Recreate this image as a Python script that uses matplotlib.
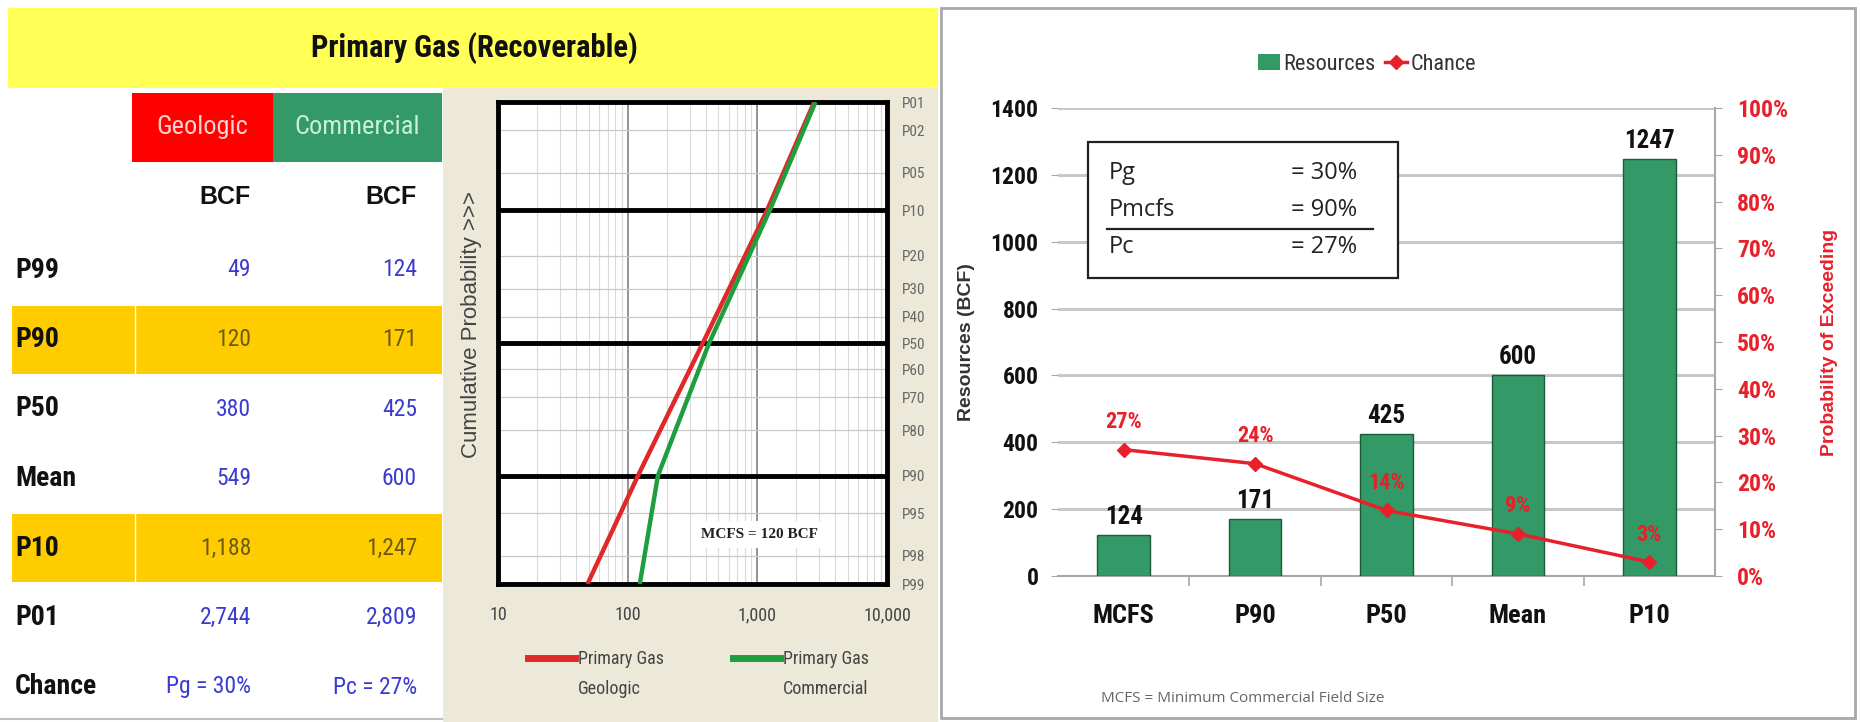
import matplotlib
matplotlib.use("Agg")
import matplotlib.pyplot as plt
from matplotlib import font_manager as fm
from matplotlib.font_manager import FontProperties
from matplotlib.patches import Rectangle, Patch
from matplotlib.lines import Line2D
import matplotlib.ticker as mticker
from statistics import NormalDist

# ---------------- data ----------------
table_rows = ["P99", "P90", "P50", "Mean", "P10", "P01"]
geologic_bcf = [49, 120, 380, 549, 1188, 2744]
commercial_bcf = [124, 171, 425, 600, 1247, 2809]
highlight_rows = ["P90", "P10"]
chance_row = ["Pg = 30%", "Pc = 27%"]

prob_labels = [1, 2, 5, 10, 20, 30, 40, 50, 60, 70, 80, 90, 95, 98, 99]
bold_probs = [10, 50, 90]
curve_p = [99, 90, 50, 10, 1]
geologic_curve = [49, 120, 380, 1188, 2744]
commercial_curve = [124, 171, 425, 1247, 2809]
x_ticks = [10, 100, 1000, 10000]
x_ticklabels = ["10", "100", "1,000", "10,000"]
mcfs_note = "MCFS = 120 BCF"

bar_categories = ["MCFS", "P90", "P50", "Mean", "P10"]
resources = [124, 171, 425, 600, 1247]
chance_pct = [27, 24, 14, 9, 3]
box_labels = ["Pg", "Pmcfs", "Pc"]
box_values = ["= 30%", "= 90%", "= 27%"]

# ---------------- fonts ----------------
def _w(f):
    w = f.weight
    if isinstance(w, str):
        w = {"bold": 700, "normal": 400, "regular": 400, "book": 400,
             "medium": 500}.get(w.lower(), 400)
    return w

prefs = ["Liberation Sans Narrow", "Arial Narrow", "Roboto Condensed",
         "Noto Sans", "Open Sans", "DejaVu Sans", "Roboto", "Lato"]
cond = {}
for f in fm.fontManager.ttflist:
    nm = f.name
    fn = f.fname.lower().split("/")[-1]
    is_c = ("Narrow" in nm or "Condensed" in nm or
            f.stretch in ("condensed", 600, 700, 750) or "condensed" in fn)
    if not is_c or f.style != "normal":
        continue
    if "extra" in fn or "ultra" in fn or "semi" in fn:
        continue
    rank = next((i for i, p in enumerate(prefs) if nm.startswith(p)), 99)
    key = "b" if _w(f) >= 650 else ("r" if 350 <= _w(f) <= 450 else None)
    if key is None:
        continue
    if key not in cond or rank < cond[key][0]:
        cond[key] = (rank, f.fname)
HAVE_COND = "r" in cond and "b" in cond


def F(size, bold=False):
    if HAVE_COND:
        return FontProperties(fname=cond["b" if bold else "r"][1], size=size)
    return FontProperties(family="Liberation Sans",
                          weight="bold" if bold else "normal", size=size * 0.84)


names = {f.name for f in fm.fontManager.ttflist}
SANS = "Liberation Sans"
SOFT = "Open Sans" if "Open Sans" in names else "DejaVu Sans"

W, H = 1860, 722
fig = plt.figure(figsize=(W / 100, H / 100), dpi=100, facecolor="white")

bg = fig.add_axes([0, 0, 1, 1], zorder=0)
bg.set_xlim(0, W)
bg.set_ylim(H, 0)
bg.axis("off")

GREEN = "#339966"
RED = "#ff0000"
LRED = "#e8202a"

bg.add_patch(Rectangle((8, 8), 930, 80, fc="#ffff55", ec="none"))
bg.add_patch(Rectangle((443, 88), 495, 634, fc="#ece9d8", ec="none"))
bg.add_patch(Rectangle((941, 8), 914, 710, fc="white", ec="#a8a8a8", lw=2))
bg.text(474, 48, "Primary Gas (Recoverable)", ha="center", va="center",
        fontproperties=F(22, True), color="#111")

bg.add_patch(Rectangle((132, 93), 141, 69, fc=RED, ec="none"))
bg.add_patch(Rectangle((273, 93), 169, 69, fc=GREEN, ec="none"))
bg.text(202, 127, "Geologic", ha="center", va="center", fontproperties=F(19),
        color="#ffd0d0")
bg.text(357, 127, "Commercial", ha="center", va="center", fontproperties=F(19),
        color="#c8f0d8")
for xr in (251, 417):
    bg.text(xr, 197, "BCF", ha="right", va="center", fontfamily=SANS,
            fontweight="bold", fontsize=18, color="#111")

row_y0, row_step = 270, 69.5
for i, (lab, g, c) in enumerate(zip(table_rows, geologic_bcf, commercial_bcf)):
    y = row_y0 + i * row_step
    hl = lab in highlight_rows
    if hl:
        bg.add_patch(Rectangle((12, y - 34), 430, 68, fc="#ffcc00", ec="none"))
        bg.plot([135, 135], [y - 34, y + 34], color="white", lw=1)
    vcol = "#6b5a10" if hl else "#3b3bd0"
    bg.text(15, y, lab, ha="left", va="center", fontproperties=F(20, True),
            color="#111")
    bg.text(251, y, f"{g:,}", ha="right", va="center", fontproperties=F(17),
            color=vcol)
    bg.text(417, y, f"{c:,}", ha="right", va="center", fontproperties=F(17),
            color=vcol)
yc = row_y0 + len(table_rows) * row_step
bg.text(15, yc, "Chance", ha="left", va="center", fontproperties=F(20, True),
        color="#111")
bg.text(251, yc, chance_row[0], ha="right", va="center", fontproperties=F(17),
        color="#3b3bd0")
bg.text(417, yc, chance_row[1], ha="right", va="center", fontproperties=F(17),
        color="#3b3bd0")
bg.plot([0, 442], [719, 719], color="#c0c0c0", lw=1.5)

# ---------------- middle probability chart ----------------
nd = NormalDist()
z = lambda p: nd.inv_cdf(p / 100.0)

axm = fig.add_axes([498 / W, 1 - 584 / H, 389 / W, 482 / H], zorder=2)
axm.set_facecolor("white")
axm.set_xscale("log")
axm.set_xlim(10, 10000)
axm.set_ylim(z(99), z(1))
for dec in (10, 100, 1000):
    for m in range(2, 10):
        axm.axvline(m * dec, color="#dadada", lw=0.8, zorder=1)
for v in (100, 1000):
    axm.axvline(v, color="#8a8a8a", lw=1.3, zorder=1)
for p in prob_labels:
    if p in bold_probs:
        axm.axhline(z(p), color="black", lw=3.5, zorder=2)
    else:
        axm.axhline(z(p), color="#c8c8c8", lw=0.9, zorder=1)

red_line, = axm.plot(geologic_curve, [z(p) for p in curve_p], color="#e02828",
                     lw=3.2, zorder=4, solid_capstyle="butt")
grn_line, = axm.plot(commercial_curve, [z(p) for p in curve_p], color="#1e9e3e",
                     lw=3.2, zorder=4, solid_capstyle="butt")

axm.set_xticks(x_ticks)
axm.set_xticklabels(x_ticklabels)
axm.xaxis.set_minor_locator(mticker.NullLocator())
axm.tick_params(axis="x", length=0, pad=16, labelcolor="#444")
for t in axm.get_xticklabels():
    t.set_fontproperties(F(13))
axm.set_yticks([z(p) for p in prob_labels])
axm.set_yticklabels([f"P{p:02d}" for p in prob_labels])
axm.yaxis.tick_right()
axm.yaxis.set_minor_locator(mticker.NullLocator())
axm.tick_params(axis="y", length=0, pad=11, labelcolor="#666")
for t in axm.get_yticklabels():
    t.set_fontproperties(F(11))
for s in axm.spines.values():
    s.set_color("black")
    s.set_linewidth(3.5)
axm.text(0.672, 0.102, mcfs_note, transform=axm.transAxes, ha="center", va="center",
         fontfamily="Liberation Serif", fontweight="bold", fontsize=11, color="#222",
         zorder=5, bbox=dict(fc="white", ec="none", pad=5))

bg.text(471, 325, "Cumulative Probability >>>", rotation=90, ha="center",
        va="center", fontfamily=SANS, fontsize=16, color="#444")
for x0, line, l1, l2 in ((528, red_line, "Primary Gas", "Geologic"),
                         (733, grn_line, "Primary Gas", "Commercial")):
    bg.add_line(Line2D([x0, x0 + 47], [658, 658], color=line.get_color(), lw=5))
    bg.text(x0 + 50, 659, l1, ha="left", va="center", fontproperties=F(13),
            color="#444")
    bg.text(x0 + 50, 689, l2, ha="left", va="center", fontproperties=F(13),
            color="#444")

# ---------------- right bar chart ----------------
axr = fig.add_axes([1058 / W, 1 - 576 / H, 657 / W, 468 / H], zorder=2)
axr.set_facecolor("none")
xs = list(range(len(bar_categories)))
axr.bar(xs, resources, width=0.4, color=GREEN, edgecolor="#1d5a3a", lw=1, zorder=3)
axr.set_xlim(-0.5, len(xs) - 0.5)
axr.set_ylim(0, 1400)
axr.set_yticks(range(0, 1401, 200))
axr.yaxis.grid(True, color="#c8c8c8", lw=2.2, zorder=0)
axr.set_axisbelow(True)
for k in ("top", "left", "right"):
    axr.spines[k].set_visible(False)
axr.spines["bottom"].set_color("#a8a8a8")
axr.spines["bottom"].set_linewidth(1.5)
axr.set_xticks(xs)
axr.set_xticklabels(bar_categories)
axr.set_xticks([x + 0.5 for x in xs[:-1]], minor=True)
axr.tick_params(axis="x", which="major", length=0, pad=20)
axr.tick_params(axis="x", which="minor", length=7, color="#a8a8a8", width=1.2)
axr.tick_params(axis="y", length=5, color="#a8a8a8", pad=9)
for t in axr.get_xticklabels():
    t.set_fontproperties(F(19, True))
    t.set_color("#111")
for t in axr.get_yticklabels():
    t.set_fontproperties(F(17, True))
    t.set_color("#111")
for x, v in zip(xs, resources):
    axr.text(x, v + 18, f"{v}", ha="center", va="bottom",
             fontproperties=F(18, True), color="#111", zorder=4)
axr.set_ylabel("Resources (BCF)", fontfamily=SANS, fontweight="bold", fontsize=14,
               color="#333")
axr.yaxis.set_label_coords(-0.126, 0.5)

ax2 = axr.twinx()
ax2.set_ylim(0, 100)
ax2.set_yticks(range(0, 101, 10))
ax2.yaxis.set_major_formatter(mticker.FuncFormatter(lambda v, _: f"{v:.0f}%"))
for k in ("top", "left", "bottom"):
    ax2.spines[k].set_visible(False)
ax2.spines["right"].set_color("#a8a8a8")
ax2.spines["right"].set_linewidth(1.5)
ax2.tick_params(axis="y", length=5, color="#a8a8a8", pad=11, labelcolor=LRED)
for t in ax2.get_yticklabels():
    t.set_fontproperties(F(17, True))
chance_line, = ax2.plot(xs, chance_pct, color=LRED, lw=2.5, marker="D", ms=7,
                        zorder=5)
for x, c in zip(xs, chance_pct):
    ax2.text(x, c + 3.5, f"{c}%", ha="center", va="bottom",
             fontproperties=F(16, True), color=LRED, zorder=6)
ax2.set_ylabel("Probability of Exceeding", fontfamily=SANS, fontweight="bold",
               fontsize=14, color=LRED)
ax2.yaxis.set_label_coords(1.161, 0.5)

ax2.add_patch(Rectangle((0.0457, 0.637), 0.4718, 0.29, transform=ax2.transAxes,
                        fc="white", ec="#222", lw=1.6, zorder=7))
for yy, lab, val in zip((0.862, 0.781, 0.702), box_labels, box_values):
    ax2.text(0.0776, yy, lab, transform=ax2.transAxes, ha="left", va="center",
             fontfamily=SOFT, fontsize=17, color="#222", zorder=8)
    ax2.text(0.355, yy, val, transform=ax2.transAxes, ha="left", va="center",
             fontfamily=SOFT, fontsize=17, color="#222", zorder=8)
ax2.add_line(Line2D([0.0746, 0.479], [0.742, 0.742], transform=ax2.transAxes,
                    color="#222", lw=1.6, zorder=8))

fig.legend([Patch(fc=GREEN, ec="none"), chance_line], ["Resources", "Chance"],
           loc="center", bbox_to_anchor=(1367 / W, 1 - 64 / H), ncol=2,
           frameon=False, handlelength=1.0, handletextpad=0.15, columnspacing=0.4,
           prop=F(16), labelcolor="#333")

fig.text(1101 / W, 1 - 698 / H, "MCFS = Minimum Commercial Field Size",
         ha="left", va="center", fontfamily=SOFT, fontsize=11, color="#666")

fig.savefig("out.png", dpi=100, facecolor="white")
